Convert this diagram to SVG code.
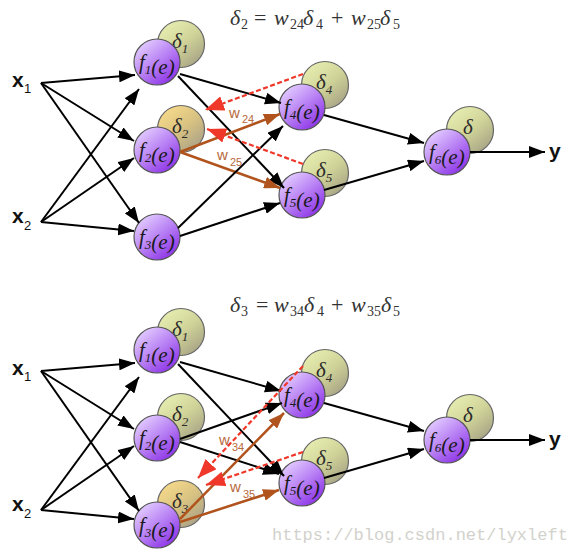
<svg xmlns="http://www.w3.org/2000/svg" width="573" height="556" viewBox="0 0 573 556">
<defs>
<linearGradient id="gp" x1="0.15" y1="0.1" x2="0.85" y2="0.95">
<stop offset="0" stop-color="#e2cbff"/><stop offset="0.45" stop-color="#bb86f5"/><stop offset="1" stop-color="#8a2ee6"/>
</linearGradient>
<linearGradient id="gg" x1="0.15" y1="0.1" x2="0.85" y2="0.95">
<stop offset="0" stop-color="#e6edb0"/><stop offset="0.5" stop-color="#d0d398"/><stop offset="1" stop-color="#a5a285"/>
</linearGradient>
<linearGradient id="gt" x1="0.15" y1="0.1" x2="0.85" y2="0.95">
<stop offset="0" stop-color="#f5d98a"/><stop offset="0.5" stop-color="#d8c282"/><stop offset="1" stop-color="#a8a088"/>
</linearGradient>
<marker id="ab" markerUnits="userSpaceOnUse" markerWidth="16" markerHeight="12" refX="16" refY="6" orient="auto"><path d="M0,0 L16,6 L0,12 z" fill="#000"/></marker>
<marker id="aw" markerUnits="userSpaceOnUse" markerWidth="16" markerHeight="12" refX="16" refY="6" orient="auto"><path d="M0,0 L16,6 L0,12 z" fill="#b0531c"/></marker>
<marker id="ar" markerUnits="userSpaceOnUse" markerWidth="19" markerHeight="15" refX="19" refY="7.5" orient="auto"><path d="M0,0 L19,7.5 L0,15 z" fill="#f0382a"/></marker>
</defs>
<style>
.f{fill:url(#gp);stroke:#555;stroke-width:1.2}
.d{fill:url(#gg);stroke:#666;stroke-width:1.2}
.dt{fill:url(#gt);stroke:#666;stroke-width:1.2}
.ft{font-family:"Liberation Serif",serif;font-style:italic;font-size:21px;fill:#1a1a1a}
.fs{font-size:13px}
.dl{font-family:"Liberation Serif",serif;font-style:italic;font-size:21px;fill:#2a2a2a}
.ds{font-size:13px}
.bk{stroke:#000;stroke-width:2;fill:none;marker-end:url(#ab)}
.br{stroke:#b0531c;stroke-width:2.5;fill:none;marker-end:url(#aw)}
.rd{stroke:#f0382a;stroke-width:2.2;stroke-dasharray:5,2.5;fill:none;marker-end:url(#ar)}
.wl{font-family:"Liberation Sans",sans-serif;font-size:15px;fill:#b86a3c}
.ws{font-size:11px}
.xl{font-family:"Liberation Sans",sans-serif;font-weight:bold;font-size:21px;fill:#111}
.xs{font-size:13px;font-weight:normal}
.eq{font-family:"Liberation Serif",serif;font-size:22px;fill:#333}
.ei{font-style:italic}
.es{font-size:14px}
.wm{font-family:"Liberation Mono",monospace;font-size:17px;fill:#d2d2cc}
</style>

<!-- formulas -->
<g id="formula-top">
<text class="eq" y="25"><tspan class="ei" x="230">δ</tspan><tspan class="es" x="241" y="29">2</tspan><tspan x="254" y="25">=</tspan><tspan class="ei" x="274">w</tspan><tspan class="es" x="290" y="29">24</tspan><tspan class="ei" x="303" y="25">δ</tspan><tspan class="es" x="316" y="29">4</tspan><tspan x="331" y="25">+</tspan><tspan class="ei" x="351">w</tspan><tspan class="es" x="367" y="29">25</tspan><tspan class="ei" x="380" y="25">δ</tspan><tspan class="es" x="393" y="29">5</tspan></text>
</g>
<g id="formula-bottom">
<text class="eq" y="312"><tspan class="ei" x="230">δ</tspan><tspan class="es" x="241" y="316">3</tspan><tspan x="256" y="312">=</tspan><tspan class="ei" x="274">w</tspan><tspan class="es" x="290" y="316">34</tspan><tspan class="ei" x="304" y="312">δ</tspan><tspan class="es" x="317" y="316">4</tspan><tspan x="331" y="312">+</tspan><tspan class="ei" x="351">w</tspan><tspan class="es" x="367" y="316">35</tspan><tspan class="ei" x="381" y="312">δ</tspan><tspan class="es" x="393" y="316">5</tspan></text>
</g>

<!-- TOP NETWORK -->
<g id="t-x1"><text class="xl" x="12" y="87">x<tspan class="xs" x="24" y="93">1</tspan></text></g>
<g id="t-x2"><text class="xl" x="12" y="223">x<tspan class="xs" x="24" y="230">2</tspan></text></g>
<g id="t-y"><text class="xl" x="549" y="158">y</text></g>

<g id="t-n1"><circle class="d" cx="181" cy="44" r="23.5"/><text class="dl" x="172" y="48">δ<tspan class="ds" y="53">1</tspan></text>
<circle class="f" cx="157" cy="62" r="23"/><text class="ft" x="139" y="69">f<tspan class="fs" y="74">1</tspan>(e)</text></g>
<g id="t-n2"><circle class="dt" cx="181" cy="129" r="23.5"/><text class="dl" x="172" y="133">δ<tspan class="ds" y="138">2</tspan></text>
<circle class="f" cx="157" cy="150" r="23"/><text class="ft" x="139" y="157">f<tspan class="fs" y="162">2</tspan>(e)</text></g>
<g id="t-n3"><circle class="f" cx="157" cy="237" r="23"/><text class="ft" x="139" y="244">f<tspan class="fs" y="249">3</tspan>(e)</text></g>
<g id="t-n4"><circle class="d" cx="325" cy="85" r="23.5"/><text class="dl" x="316" y="89">δ<tspan class="ds" y="94">4</tspan></text>
<circle class="f" cx="302" cy="107" r="23"/><text class="ft" x="284" y="114">f<tspan class="fs" y="119">4</tspan>(e)</text></g>
<g id="t-n5"><circle class="d" cx="325" cy="173" r="23.5"/><text class="dl" x="316" y="177">δ<tspan class="ds" y="182">5</tspan></text>
<circle class="f" cx="302" cy="195" r="23"/><text class="ft" x="284" y="202">f<tspan class="fs" y="207">5</tspan>(e)</text></g>
<g id="t-n6"><circle class="d" cx="470" cy="130" r="23.5"/><text class="dl" x="463" y="134">δ</text>
<circle class="f" cx="447" cy="152" r="23"/><text class="ft" x="429" y="159">f<tspan class="fs" y="164">6</tspan>(e)</text></g>

<g id="t-connectors">
<line class="bk" x1="41" y1="83" x2="135" y2="75"/>
<line class="bk" x1="41" y1="222" x2="139" y2="89"/>
<line class="bk" x1="41" y1="83" x2="134" y2="141"/>
<line class="bk" x1="41" y1="222" x2="134" y2="158"/>
<line class="bk" x1="41" y1="83" x2="139" y2="223"/>
<line class="bk" x1="41" y1="222" x2="134" y2="231"/>
<line class="bk" x1="180" y1="74" x2="281" y2="103"/>
<line class="bk" x1="178" y1="76" x2="284" y2="188"/>
<line class="br" x1="180" y1="152" x2="280" y2="114"/>
<line class="br" x1="180" y1="152" x2="280" y2="188"/>
<line class="bk" x1="178" y1="228" x2="283" y2="126"/>
<line class="bk" x1="180" y1="236" x2="280" y2="203"/>
<line class="bk" x1="324" y1="115" x2="424" y2="143"/>
<line class="bk" x1="324" y1="190" x2="424" y2="161"/>
<line class="bk" x1="470" y1="152" x2="545" y2="152"/>
<line class="rd" x1="303" y1="74" x2="205" y2="110"/>
<line class="rd" x1="303" y1="164" x2="207" y2="129"/>
<text class="wl" x="229" y="118">w<tspan class="ws" x="242" y="123">24</tspan></text>
<text class="wl" x="217" y="160">w<tspan class="ws" x="230" y="166">25</tspan></text>
</g>

<!-- BOTTOM NETWORK -->
<g id="b-x1"><text class="xl" x="12" y="375">x<tspan class="xs" x="24" y="381">1</tspan></text></g>
<g id="b-x2"><text class="xl" x="12" y="511">x<tspan class="xs" x="24" y="518">2</tspan></text></g>
<g id="b-y"><text class="xl" x="549" y="446">y</text></g>

<g id="b-n1"><circle class="d" cx="181" cy="332" r="23.5"/><text class="dl" x="172" y="336">δ<tspan class="ds" y="341">1</tspan></text>
<circle class="f" cx="157" cy="350" r="23"/><text class="ft" x="139" y="357">f<tspan class="fs" y="362">1</tspan>(e)</text></g>
<g id="b-n2"><circle class="d" cx="181" cy="417" r="23.5"/><text class="dl" x="172" y="421">δ<tspan class="ds" y="426">2</tspan></text>
<circle class="f" cx="157" cy="438" r="23"/><text class="ft" x="139" y="445">f<tspan class="fs" y="450">2</tspan>(e)</text></g>
<g id="b-n3"><circle class="dt" cx="181" cy="504" r="23.5"/><text class="dl" x="172" y="508">δ<tspan class="ds" y="513">3</tspan></text>
<circle class="f" cx="157" cy="525" r="23"/><text class="ft" x="139" y="532">f<tspan class="fs" y="537">3</tspan>(e)</text></g>
<g id="b-n4"><circle class="d" cx="325" cy="373" r="23.5"/><text class="dl" x="316" y="377">δ<tspan class="ds" y="382">4</tspan></text>
<circle class="f" cx="302" cy="395" r="23"/><text class="ft" x="284" y="402">f<tspan class="fs" y="407">4</tspan>(e)</text></g>
<g id="b-n5"><circle class="d" cx="325" cy="461" r="23.5"/><text class="dl" x="316" y="465">δ<tspan class="ds" y="470">5</tspan></text>
<circle class="f" cx="302" cy="483" r="23"/><text class="ft" x="284" y="490">f<tspan class="fs" y="495">5</tspan>(e)</text></g>
<g id="b-n6"><circle class="d" cx="470" cy="418" r="23.5"/><text class="dl" x="463" y="422">δ</text>
<circle class="f" cx="447" cy="440" r="23"/><text class="ft" x="429" y="447">f<tspan class="fs" y="452">6</tspan>(e)</text></g>

<g id="b-connectors">
<line class="bk" x1="41" y1="371" x2="135" y2="363"/>
<line class="bk" x1="41" y1="510" x2="139" y2="377"/>
<line class="bk" x1="41" y1="371" x2="134" y2="429"/>
<line class="bk" x1="41" y1="510" x2="134" y2="446"/>
<line class="bk" x1="41" y1="371" x2="139" y2="511"/>
<line class="bk" x1="41" y1="510" x2="134" y2="519"/>
<line class="bk" x1="180" y1="362" x2="281" y2="391"/>
<line class="bk" x1="178" y1="364" x2="284" y2="476"/>
<line class="bk" x1="180" y1="439" x2="282" y2="403"/>
<line class="bk" x1="180" y1="442" x2="279" y2="474"/>
<line class="br" x1="180" y1="519" x2="284" y2="413"/>
<line class="br" x1="180" y1="522" x2="279" y2="490"/>
<line class="bk" x1="324" y1="403" x2="424" y2="431"/>
<line class="bk" x1="324" y1="478" x2="424" y2="449"/>
<line class="bk" x1="470" y1="440" x2="545" y2="440"/>
<line class="rd" x1="303" y1="366" x2="198" y2="478"/>
<line class="rd" x1="303" y1="452" x2="206" y2="485"/>
<text class="wl" x="219" y="445">w<tspan class="ws" x="232" y="451">34</tspan></text>
<text class="wl" x="230" y="492">w<tspan class="ws" x="243" y="498">35</tspan></text>
</g>

<text class="wm" x="272" y="540">https://blog.csdn.net/lyxleft</text>
</svg>
